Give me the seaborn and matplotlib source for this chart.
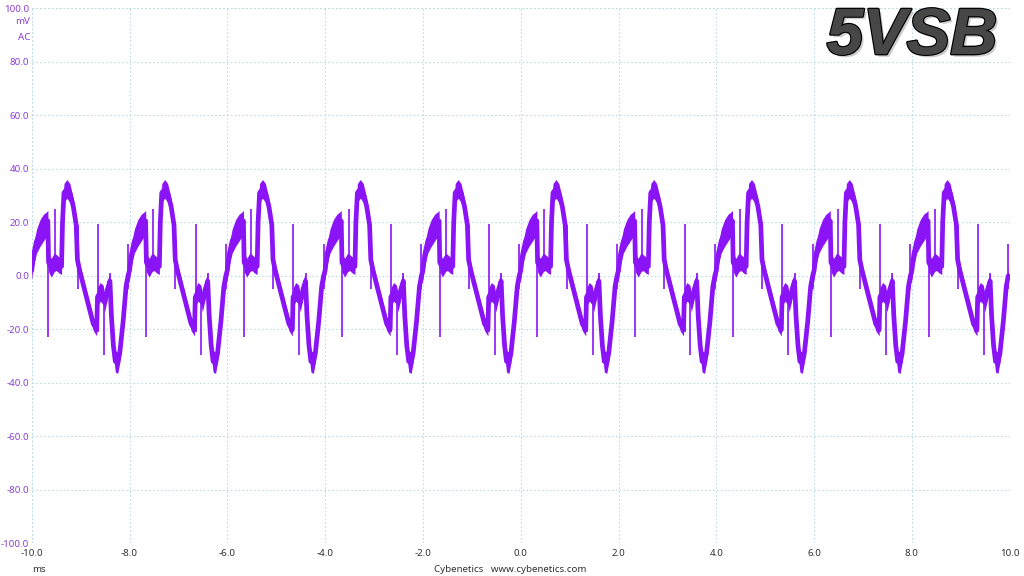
import numpy as np
import matplotlib
matplotlib.use("Agg")
import matplotlib.pyplot as plt
import matplotlib.patheffects as pe
import seaborn as sns

# one 2 ms ripple cycle (time inside cycle, mV, half width of the noise band)
cycle_t = [0.00, 0.04, 0.10, 0.17, 0.24, 0.31, 0.33, 0.345, 0.40, 0.46, 0.50, 0.56, 0.61,
           0.63, 0.66, 0.72, 0.78, 0.85, 0.91, 0.935, 0.98, 1.05, 1.16, 1.26, 1.33, 1.345,
           1.40, 1.46, 1.49, 1.55, 1.60, 1.63, 1.67, 1.71, 1.76, 1.80, 1.87, 1.93, 1.97]
cycle_mv = [2, 8, 13, 16, 18, 19.5, 20.5, 5, 3, 5, 5, 4, 3.5,
            20, 31, 32.5, 31, 26, 19, 6, 2, -3, -11, -18, -20, -8,
            -6, -7, -10, -5, -2, -15, -26, -32, -32.5, -29, -17, -4, 0]
cycle_noise = [3.5, 4, 4.5, 5, 5, 4.5, 4, 3.5, 3.5, 3.5, 3, 3, 3,
               3, 3.5, 3.5, 3.5, 3, 3, 3, 2.5, 2.5, 2.5, 2.5, 2.5, 3.5,
               3.5, 3.5, 3.5, 3.5, 3, 3, 3.5, 4, 4, 3.5, 3, 3, 3]

# thin switching spikes inside a cycle
spike_t = [0.34, 0.48, 0.94, 1.35, 1.47, 1.60, 1.97]
spike_lo = [-23, 3, -5, -21, -29.5, -3, -5]
spike_hi = [5, 25, 19, 19.5, -6, 1, 12]

# start of each cycle on the time axis (ms)
cycle_start_ms = [-10.0, -8.0, -6.0, -4.0, -2.0, 0.0, 2.0, 4.0, 6.0, 8.0]

x_ticks = [-10.0, -8.0, -6.0, -4.0, -2.0, 0.0, 2.0, 4.0, 6.0, 8.0, 10.0]
y_ticks = [100.0, 80.0, 60.0, 40.0, 20.0, 0.0, -20.0, -40.0, -60.0, -80.0, -100.0]

trace = "#8a14f5"
grid_c = "#bddde6"
ylab_c = "#8b3fd6"

sns.set_style("white")
plt.rcParams['font.family'] = ['Noto Sans', 'DejaVu Sans']

t_all = np.concatenate([s + np.array(cycle_t) for s in cycle_start_ms])
v_all = np.concatenate([np.array(cycle_mv, float) for s in cycle_start_ms])
n_all = np.concatenate([np.array(cycle_noise, float) for s in cycle_start_ms])

fig = plt.figure(figsize=(10.24, 5.76), dpi=100)
ax = fig.add_axes([31.7 / 1024, 1 - 543.3 / 576, 978 / 1024, 535 / 576])

ax.fill_between(t_all, v_all - n_all, v_all + n_all, color=trace, lw=0, zorder=3)
sns.lineplot(x=t_all, y=v_all, ax=ax, color=trace, linewidth=3.4,
             estimator=None, sort=False, zorder=4)
for s in cycle_start_ms:
    ax.vlines([s + t for t in spike_t], spike_lo, spike_hi, color=trace, lw=1.2, zorder=4)

ax.set_xlim(-10, 10)
ax.set_ylim(-100, 100)
ax.set_xticks(x_ticks)
ax.set_yticks(y_ticks)
ax.set_xticklabels([f"{v:.1f}" for v in x_ticks], fontsize=7, color="#333333")
ax.set_yticklabels([f"{v:.1f}" for v in y_ticks], fontsize=7, color=ylab_c)
ax.tick_params(length=0, pad=2)
ax.tick_params(axis='x', pad=4)
ax.grid(True, color=grid_c, linestyle=(0, (1.5, 2)), linewidth=0.8)
for sp in ax.spines.values():
    sp.set_visible(False)
for xv in (-10, 10):
    ax.axvline(xv, color=grid_c, linestyle=(0, (1.5, 2)), linewidth=0.8, zorder=1)
for yv in (-100, 100):
    ax.axhline(yv, color=grid_c, linestyle=(0, (1.5, 2)), linewidth=0.8, zorder=1)

fig.text(30 / 1024, 1 - 22 / 576, "mV", ha="right", va="center", fontsize=7, color=ylab_c)
fig.text(30 / 1024, 1 - 37 / 576, "AC", ha="right", va="center", fontsize=7, color=ylab_c)
fig.text(32 / 1024, 1 - 570 / 576, "ms", ha="left", va="center", fontsize=7, color="#333333")
fig.text(510 / 1024, 1 - 569 / 576, "Cybenetics   www.cybenetics.com", ha="center",
         va="center", fontsize=7, color="#333333")

fig.text(912 / 1024, 1 - 37 / 576, "5VSB", ha="center", va="center", fontsize=47,
         fontweight="bold", fontstyle="italic", family="Liberation Sans", color="#474747",
         path_effects=[pe.withSimplePatchShadow(offset=(2, -2), shadow_rgbFace="#aaaaaa", alpha=0.6),
                       pe.withStroke(linewidth=2, foreground="#050505"), pe.Normal()])

fig.savefig("out.png", dpi=100)
